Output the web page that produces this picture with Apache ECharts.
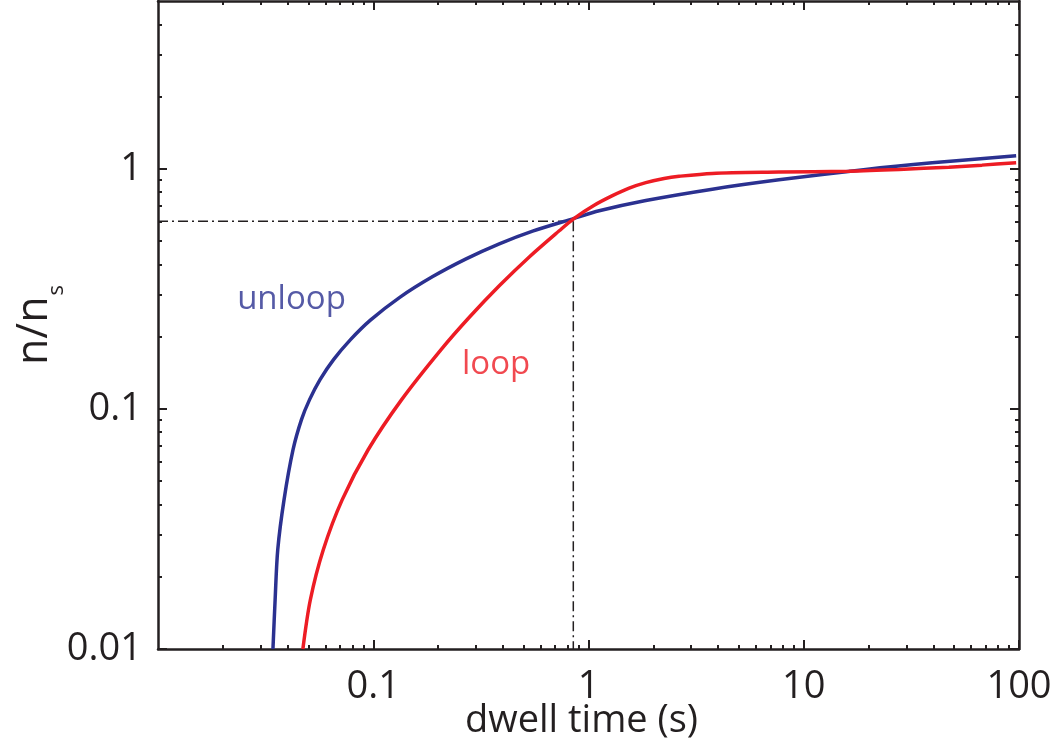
<!DOCTYPE html>
<html>
<head>
<meta charset="utf-8">
<script src="https://cdn.jsdelivr.net/npm/echarts@6/dist/echarts.min.js"></script>
<style>
  html, body { margin: 0; padding: 0; background: #fff; }
  #chart { width: 1050px; height: 742px; }
</style>
</head>
<body>
<div id="chart"></div>
<script>
// n/n_s against dwell time
const unloopX = [0.0342, 0.0350, 0.0360, 0.0385, 0.0424, 0.0464, 0.0506, 0.0566, 0.0654, 0.0784, 0.0970, 0.1323, 0.1889, 0.270, 0.385, 0.550, 0.858, 1.121, 1.846, 3.762, 7.67, 19.4, 39.5, 97]
const unloopY = [0.01, 0.0160, 0.0259, 0.0418, 0.0676, 0.0902, 0.1093, 0.1324, 0.1604, 0.1943, 0.2342, 0.2909, 0.3558, 0.4217, 0.4871, 0.5503, 0.622, 0.6687, 0.738, 0.8228, 0.8997, 0.9943, 1.059, 1.133]

const loopX = [0.0471, 0.0510, 0.0586, 0.0717, 0.0947, 0.1355, 0.2066, 0.2795, 0.385, 0.5306, 0.7311, 0.858, 1.063, 1.292, 1.545, 1.846, 2.245, 2.636, 3.762, 7.67, 16.2, 27.7, 47.2, 67.3, 97]
const loopY = [0.01, 0.0160, 0.0259, 0.0418, 0.0676, 0.1093, 0.1766, 0.2408, 0.3257, 0.4295, 0.552, 0.622, 0.705, 0.773, 0.831, 0.876, 0.912, 0.931, 0.957, 0.969, 0.978, 0.994, 1.016, 1.036, 1.060]

// dash-dot guide through the crossing point
const crossX = 0.85
const crossY = 0.605

// curve names written inside the plot
const textNames = ['unloop', 'loop']
const textX = [0.0417, 0.372]
const textY = [0.285, 0.153]

// ticks
const xMajor = [0.1, 1, 10, 100]
const xMinor = [0.02, 0.03, 0.04, 0.05, 0.06, 0.07, 0.08, 0.09,
  0.2, 0.3, 0.4, 0.5, 0.6, 0.7, 0.8, 0.9,
  2, 3, 4, 5, 6, 7, 8, 9,
  20, 30, 40, 50, 60, 70, 80, 90]
const yMajor = [0.01, 0.1, 1]
const yMinor = [0.02, 0.03, 0.04, 0.05, 0.06, 0.07, 0.08, 0.09,
  0.2, 0.3, 0.4, 0.5, 0.6, 0.7, 0.8, 0.9,
  2, 3, 4]

const ink = '#231f20'
const blue = '#2b3190'
const red = '#ed1c24'
const font = 'Open Sans'

const zip = (xs, ys) => xs.map((x, i) => [x, ys[i]])

// one axis per side for the frame + major ticks, one more for the short minor ticks
const makeAxis = (min, max, position, ticks, tickLen, isFrame, label) => ({
  type: 'log',
  logBase: 10,
  min,
  max,
  position,
  gridIndex: 0,
  axisLine: { show: isFrame, onZero: false, lineStyle: { color: ink, width: 2.5 } },
  axisTick: {
    show: true,
    inside: true,
    length: tickLen,
    customValues: ticks,
    lineStyle: { color: ink, width: 2 }
  },
  axisLabel: label || { show: false },
  splitLine: { show: false },
  minorTick: { show: false }
})

const tickFont = { color: ink, fontFamily: font, fontSize: 38, lineHeight: 38 }

const xAxes = [
  {
    ...makeAxis(0.01, 100, 'bottom', xMajor, 9, true,
      { show: true, customValues: xMajor, margin: 19, ...tickFont }),
    name: 'dwell time (s)',
    nameLocation: 'middle',
    nameGap: 53,
    nameMoveOverlap: false,
    nameTextStyle: { color: ink, fontFamily: font, fontSize: 38, lineHeight: 38, padding: [0, 14, 0, 0] }
  },
  makeAxis(0.01, 100, 'bottom', xMinor, 4, false, null),
  makeAxis(0.01, 100, 'top', xMajor, 9, true, null),
  makeAxis(0.01, 100, 'top', xMinor, 4, false, null)
]

const yAxes = [
  {
    ...makeAxis(0.01, 5, 'left', yMajor, 9, true,
      { show: true, customValues: yMajor, margin: 16, padding: [13, 0, 0, 0], ...tickFont }),
    name: '{n|n/n}{s|s}',
    nameLocation: 'middle',
    nameGap: 101,
    nameMoveOverlap: false,
    nameTextStyle: {
      color: ink,
      fontFamily: font,
      rich: {
        n: { fontFamily: font, fontSize: 43, lineHeight: 44, color: ink, verticalAlign: 'top' },
        s: { fontFamily: font, fontSize: 22, lineHeight: 22, color: ink, verticalAlign: 'top', padding: [33, 0, 0, 1] }
      }
    }
  },
  makeAxis(0.01, 5, 'left', yMinor, 4, false, null),
  makeAxis(0.01, 5, 'right', yMajor, 9, true, null),
  makeAxis(0.01, 5, 'right', yMinor, 4, false, null)
]

const guideStyle = { color: ink, width: 1.5, type: [10, 4, 2, 4] }

const option = {
  animation: false,
  backgroundColor: '#fff',
  grid: { left: 158, right: 31, top: 1, bottom: 93, containLabel: false, outerBoundsMode: 'none' },
  xAxis: xAxes,
  yAxis: yAxes,
  series: [
    {
      name: 'unloop',
      type: 'line',
      data: zip(unloopX, unloopY),
      showSymbol: false,
      smooth: 0.3,
      lineStyle: { color: blue, width: 3.5 },
      z: 3
    },
    {
      name: 'loop',
      type: 'line',
      data: zip(loopX, loopY),
      showSymbol: false,
      smooth: 0.3,
      lineStyle: { color: red, width: 3.5 },
      z: 4
    },
    {
      // horizontal guide
      type: 'line',
      data: [[0.01, crossY], [crossX, crossY]],
      showSymbol: false,
      lineStyle: guideStyle,
      z: 2
    },
    {
      // vertical guide
      type: 'line',
      data: [[crossX, crossY], [crossX, 0.01]],
      showSymbol: false,
      lineStyle: guideStyle,
      z: 2
    },
    {
      type: 'scatter',
      symbolSize: 0,
      data: textNames.map((n, i) => ({
        name: n,
        value: [textX[i], textY[i]],
        label: { color: i === 0 ? blue : red }
      })),
      label: {
        show: true,
        position: 'inside',
        formatter: p => p.name,
        fontFamily: font,
        fontSize: 33
      },
      z: 5
    }
  ]
}

const chart = echarts.init(document.getElementById('chart'), null, { renderer: 'canvas' })
chart.setOption(option)
window.addEventListener('resize', () => chart.resize())
</script>
</body>
</html>
